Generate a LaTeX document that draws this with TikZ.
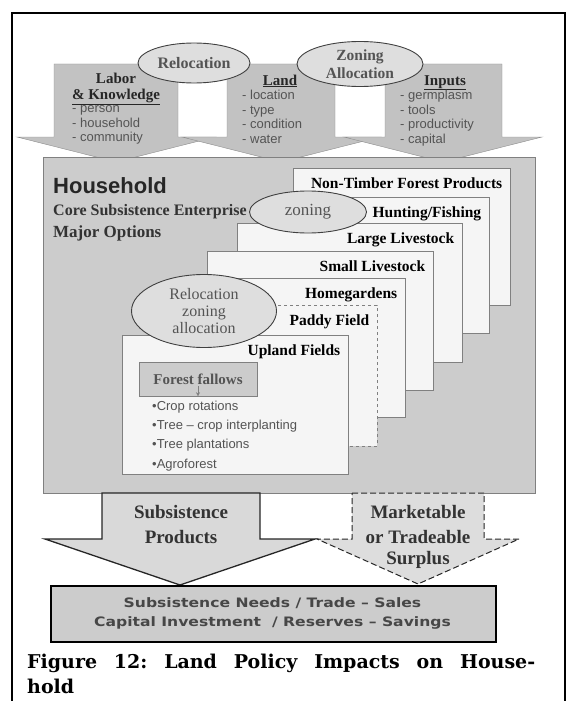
\documentclass[tikz,border=0pt]{standalone}
\usepackage{fontspec}
\setmainfont{Liberation Serif}
\setsansfont{Liberation Sans}
\newfontfamily\capfont{DejaVu Serif}
\newfontfamily\widesans{DejaVu Sans}
\usetikzlibrary{positioning, calc, shapes.geometric}
\usetikzlibrary{arrows, arrows.meta}
\definecolor{arrgray}{gray}{0.76}
\definecolor{hhgray}{gray}{0.80}
\definecolor{boxwhite}{gray}{0.96}
\definecolor{ovalgray}{gray}{0.87}
\definecolor{outgray}{gray}{0.85}
\definecolor{txtgray}{gray}{0.33}

\begin{document}
\frenchspacing
\begin{tikzpicture}[x=1pt,y=-1pt,>=stealth']
  \tikzstyle{inarrow}=[fill=arrgray,draw=gray!90,thin]
  \tikzstyle{outarrow}=[fill=outgray,draw=black!85,line width=1.3pt]
  \tikzstyle{oval}=[ellipse,draw=black!75,fill=ovalgray,inner sep=0pt,line width=0.9pt,text=txtgray]
  \tikzstyle{hhbox}=[rectangle,draw=gray,fill=hhgray,anchor=north west,inner sep=0pt,thin]
  \tikzstyle{optbox}=[rectangle,draw=gray,fill=boxwhite,anchor=north west,inner sep=0pt,thin]
  \tikzstyle{optlbl}=[anchor=base east,inner sep=0pt,font=\bfseries\fontsize{15.5}{17}\selectfont]
  \tikzstyle{intitle}=[anchor=base,inner sep=0pt,text=black!85,font=\bfseries\fontsize{15}{17}\selectfont]
  \tikzstyle{listitem}=[anchor=base west,inner sep=0pt,text=txtgray,font=\sffamily\fontsize{13}{15}\selectfont]
  \tikzstyle{outtxt}=[anchor=base,inner sep=0pt,text=black!80,font=\bfseries\fontsize{19}{21}\selectfont]
  \tikzstyle{needtxt}=[inner sep=0pt,text=black!72,font=\widesans\bfseries\fontsize{13}{15}\selectfont]
  \tikzstyle{captxt}=[anchor=base west,inner sep=0pt,font=\capfont\bfseries\fontsize{19}{25}\selectfont]

  \useasboundingbox (0,0) rectangle (571,701);
  \draw[line width=2pt] (12,701) -- (12,13) -- (565,13) -- (565,701);

  % resources coming in
  \draw[inarrow] (54,64) -- (178,64) -- (178,137) -- (215,137) -- (116,162) -- (17,137) -- (54,137) -- cycle;
  \draw[inarrow] (227,64) -- (335,64) -- (335,137) -- (380,137) -- (281,162) -- (182,137) -- (227,137) -- cycle;
  \draw[inarrow] (385,64) -- (502,64) -- (502,137) -- (542,137) -- (443,162) -- (344,137) -- (385,137) -- cycle;

  \node[intitle] (labor) at (116,84) {Labor};
  \node[intitle] (know) at (116,99) {\underline{\& Knowledge}};
  \node[listitem] (lab1) at (72,112.5) {- person};
  \node[listitem] (lab2) at (72,127) {- household};
  \node[listitem] (lab3) at (72,141.5) {- community};

  \node[intitle] (land) at (280,85) {\underline{Land}};
  \node[listitem] (land1) at (242,99.5) {- location};
  \node[listitem] (land2) at (242,114) {- type};
  \node[listitem] (land3) at (242,128.5) {- condition};
  \node[listitem] (land4) at (242,143) {- water};

  \node[intitle] (inputs) at (445,85) {\underline{Inputs}};
  \node[listitem] (inp1) at (400,99.5) {- germplasm};
  \node[listitem] (inp2) at (400,114) {- tools};
  \node[listitem] (inp3) at (400,128.5) {- productivity};
  \node[listitem] (inp4) at (400,143) {- capital};

  \node[oval,minimum width=112pt,minimum height=40pt,font=\bfseries\fontsize{16}{18}\selectfont] (reloc) at (194,63) {Relocation};
  \node[oval,minimum width=126pt,minimum height=45pt,align=center,font=\bfseries\fontsize{15.5}{18}\selectfont] (zonalloc) at (360,64) {Zoning\\Allocation};

  % household
  \node[hhbox,minimum width=492pt,minimum height=336pt] (hh) at (43,157) {};
  \node[anchor=base west,inner sep=0pt,text=black!85,font=\sffamily\bfseries\fontsize{22}{24}\selectfont] (hhtitle) at (53,193) {Household};
  \node[anchor=base west,inner sep=0pt,text=black!80,font=\bfseries\fontsize{16}{18}\selectfont] (core) at (53,215) {Core Subsistence Enterprise};
  \node[anchor=base west,inner sep=0pt,text=black!80,font=\bfseries\fontsize{17}{19}\selectfont] (major) at (53,237) {Major Options};

  \node[optbox,minimum width=217pt,minimum height=137pt] (ntfp) at (293,168) {};
  \node[optlbl] (ntfpl) at ([xshift=-8pt,yshift=-20pt]ntfp.north east) {Non-Timber Forest Products};
  \node[optbox,minimum width=224pt,minimum height=136pt] (hunt) at (265,197) {};
  \node[optlbl] (huntl) at ([xshift=-8pt,yshift=-20pt]hunt.north east) {Hunting/Fishing};
  \node[optbox,minimum width=225pt,minimum height=139pt] (large) at (237,223) {};
  \node[optlbl] (largel) at ([xshift=-8pt,yshift=-20pt]large.north east) {Large Livestock};
  \node[optbox,minimum width=226pt,minimum height=139pt] (small) at (207,251) {};
  \node[optlbl] (smalll) at ([xshift=-8pt,yshift=-20pt]small.north east) {Small Livestock};
  \node[optbox,minimum width=225pt,minimum height=139pt] (home) at (180,278) {};
  \node[optlbl] (homel) at ([xshift=-8pt,yshift=-20pt]home.north east) {Homegardens};
  \node[optbox,dashed,minimum width=225pt,minimum height=141pt] (paddy) at (152,305) {};
  \node[optlbl] (paddyl) at ([xshift=-8pt,yshift=-20pt]paddy.north east) {Paddy Field};
  \node[optbox,minimum width=226pt,minimum height=139pt] (upland) at (122,335) {};
  \node[optlbl] (uplandl) at ([xshift=-8pt,yshift=-20pt]upland.north east) {Upland Fields};

  \node[rectangle,draw=gray,fill=hhgray,minimum width=118pt,minimum height=34pt,inner sep=0pt,text=txtgray,font=\bfseries\fontsize{15}{17}\selectfont] (ff) at (198,379) {Forest fallows};
  \coordinate (ffa) at (198,386);
  \draw[-{Stealth[length=4pt,width=4pt]},gray] (ffa) -- (ff.south);
  \node[listitem] (ff1) at (152,410.5) {•Crop rotations};
  \node[listitem] (ff2) at (152,429.5) {•Tree – crop interplanting};
  \node[listitem] (ff3) at (152,448.5) {•Tree plantations};
  \node[listitem] (ff4) at (152,468) {•Agroforest};

  \node[oval,minimum width=117pt,minimum height=42pt,font=\fontsize{17}{19}\selectfont] (zon) at (308,212) {zoning};
  \node[oval,minimum width=145pt,minimum height=73pt,align=center,font=\fontsize{16}{17}\selectfont] (reloc2) at (204,311) {Relocation\\zoning\\allocation};

  % what goes out
  \draw[outarrow] (102,493) -- (260,493) -- (260,539) -- (315,539) -- (180,585) -- (45,539) -- (102,539) -- cycle;
  \draw[outarrow,dash pattern=on 6pt off 3pt,line width=1pt,fill=outgray!90] (352,493) -- (484,493) -- (484,539) -- (519,539) -- (418,584) -- (317,539) -- (352,539) -- cycle;
  \node[outtxt] (subs1) at (181,518) {Subsistence};
  \node[outtxt] (subs2) at (181,543) {Products};
  \node[outtxt] (mark1) at (418,518) {Marketable};
  \node[outtxt] (mark2) at (418,543) {or Tradeable};
  \node[outtxt] (mark3) at (418,564) {Surplus};

  \node[rectangle,draw=black,fill=hhgray,line width=2pt,anchor=north west,minimum width=445pt,minimum height=56pt] (needs) at (50,585) {};
  \node[needtxt] (need1) at (272.5,603) {\scalebox{1.2}[1]{Subsistence Needs / Trade – Sales}};
  \node[needtxt] (need2) at (272.5,623) {\scalebox{1.2}[1]{Capital Investment \ / Reserves – Savings}};

  \node[captxt] (cap1) at (27,668) {\makebox[508pt][s]{Figure 12: Land Policy Impacts on House-}};
  \node[captxt] (cap2) at (27,693) {hold};
\end{tikzpicture}
\end{document}
